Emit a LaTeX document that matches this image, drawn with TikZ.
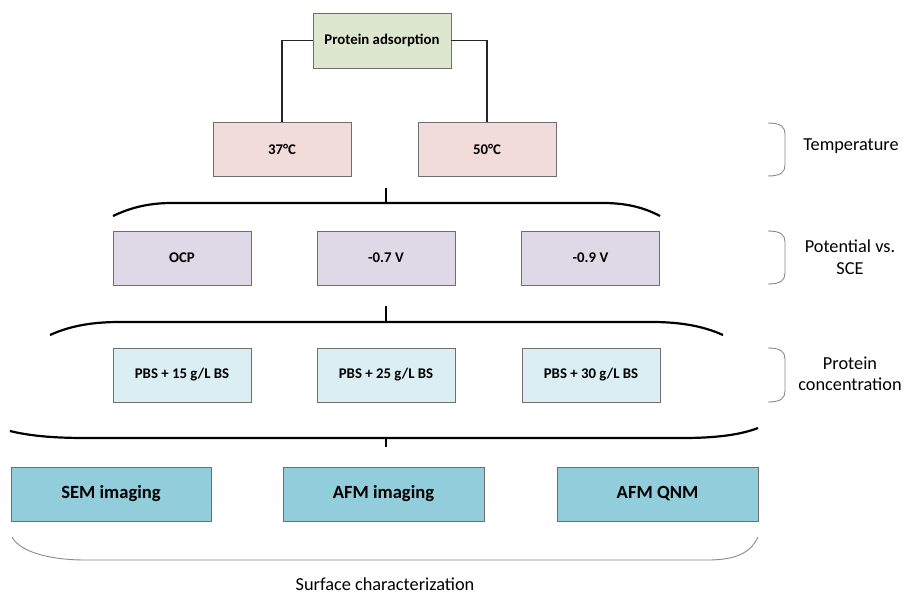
\documentclass[tikz,border=0pt]{standalone}
\usepackage{fontspec}
\setmainfont{Carlito}
\definecolor{boxline}{HTML}{6F6F6F}
\definecolor{cgreen}{HTML}{DDE7CF}
\definecolor{cpink}{HTML}{F2DCDB}
\definecolor{clav}{HTML}{DED9E6}
\definecolor{cpale}{HTML}{DAEEF3}
\definecolor{cteal}{HTML}{92CDDC}
\definecolor{darkline}{HTML}{262626}
\definecolor{braceg}{HTML}{8A8A8A}
\begin{document}
\begin{tikzpicture}[x=1pt,y=-1pt,
  box/.style={draw=boxline, line width=0.9pt, minimum width=138pt, minimum height=54pt, inner sep=0pt, font=\fontsize{14.8}{17}\selectfont\bfseries},
  bigbox/.style={box, fill=cteal, minimum width=201pt, font=\fontsize{18.6}{22}\selectfont\bfseries},
  brk/.style={line width=2.2pt, black},
  gbrace/.style={line width=0.9pt, braceg},
  lbl/.style={font=\fontsize{18.3}{21.5}\selectfont, align=center, inner sep=0pt},
  conn/.style={line width=1.6pt, darkline}]
\useasboundingbox (0,0) rectangle (907,596);
\fill[white] (0,0) rectangle (907,596);

% top level
\node[box, fill=cgreen, minimum height=55pt] (pa) at (382,40.5) {Protein adsorption};
\node[box, fill=cpink] (t37) at (282,149) {37°C};
\node[box, fill=cpink] (t50) at (487,149) {50°C};
\draw[conn] (pa.west) -| (t37.north);
\draw[conn] (pa.east) -| (t50.north);

% potential row
\node[box, fill=clav] (ocp) at (182,258) {OCP};
\node[box, fill=clav] (v07) at (386,258) {-0.7 V};
\node[box, fill=clav] (v09) at (590.5,258) {-0.9 V};

% concentration row
\node[box, fill=cpale] (p15) at (182,375) {PBS + 15 g/L BS};
\node[box, fill=cpale] (p25) at (386,375) {PBS + 25 g/L BS};
\node[box, fill=cpale] (p30) at (591,375) {PBS + 30 g/L BS};

% characterization row
\node[bigbox, minimum width=200pt] (sem) at (111,494) {SEM imaging};
\node[bigbox] (afmi) at (383.5,494) {AFM imaging};
\node[bigbox] (afmq) at (657.5,494) {AFM QNM};

% brackets and ticks
\coordinate (k1a) at (386,188); \coordinate (k1b) at (386,203);
\coordinate (k2a) at (386,306); \coordinate (k2b) at (386,322);
\coordinate (k3a) at (386,438); \coordinate (k3b) at (386,447);
\draw[brk] (113,216) .. controls (132,207) and (150,203) .. (172,203) -- (603,203) .. controls (625,203) and (643,207) .. (660,216);
\draw[line width=1.6pt] (k1a) -- (k1b);
\draw[brk] (50,335) .. controls (72,325) and (95,322) .. (120,322) -- (652,322) .. controls (680,322) and (703,326) .. (723,335);
\draw[line width=1.6pt] (k2a) -- (k2b);
\draw[brk] (10,431) .. controls (30,436) and (55,438) .. (85,438) -- (683,438) .. controls (715,438) and (740,435) .. (758,428);
\draw[line width=1.6pt] (k3a) -- (k3b);

% bottom brace
\draw[gbrace] (12,537) .. controls (20,552) and (50,560) .. (85,560) -- (708,560) .. controls (740,560) and (752,550) .. (758,537);
\node[lbl] (surf) at (385,584) {Surface characterization};

% right braces and labels
\draw[gbrace] (768,123) .. controls (781,123) and (785,127) .. (785,134) -- (785,165) .. controls (785,172) and (781,176) .. (768,176);
\draw[gbrace] (768,231) .. controls (781,231) and (785,235) .. (785,242) -- (785,273) .. controls (785,280) and (781,284) .. (768,284);
\draw[gbrace] (768,348) .. controls (781,348) and (785,352) .. (785,359) -- (785,391) .. controls (785,398) and (781,402) .. (768,402);
\node[lbl] (temp) at (851,146) {Temperature};
\node[lbl] (pot) at (850,257) {Potential vs.\\SCE};
\node[lbl] (conc) at (850,374) {Protein\\concentration};
\end{tikzpicture}
\end{document}
